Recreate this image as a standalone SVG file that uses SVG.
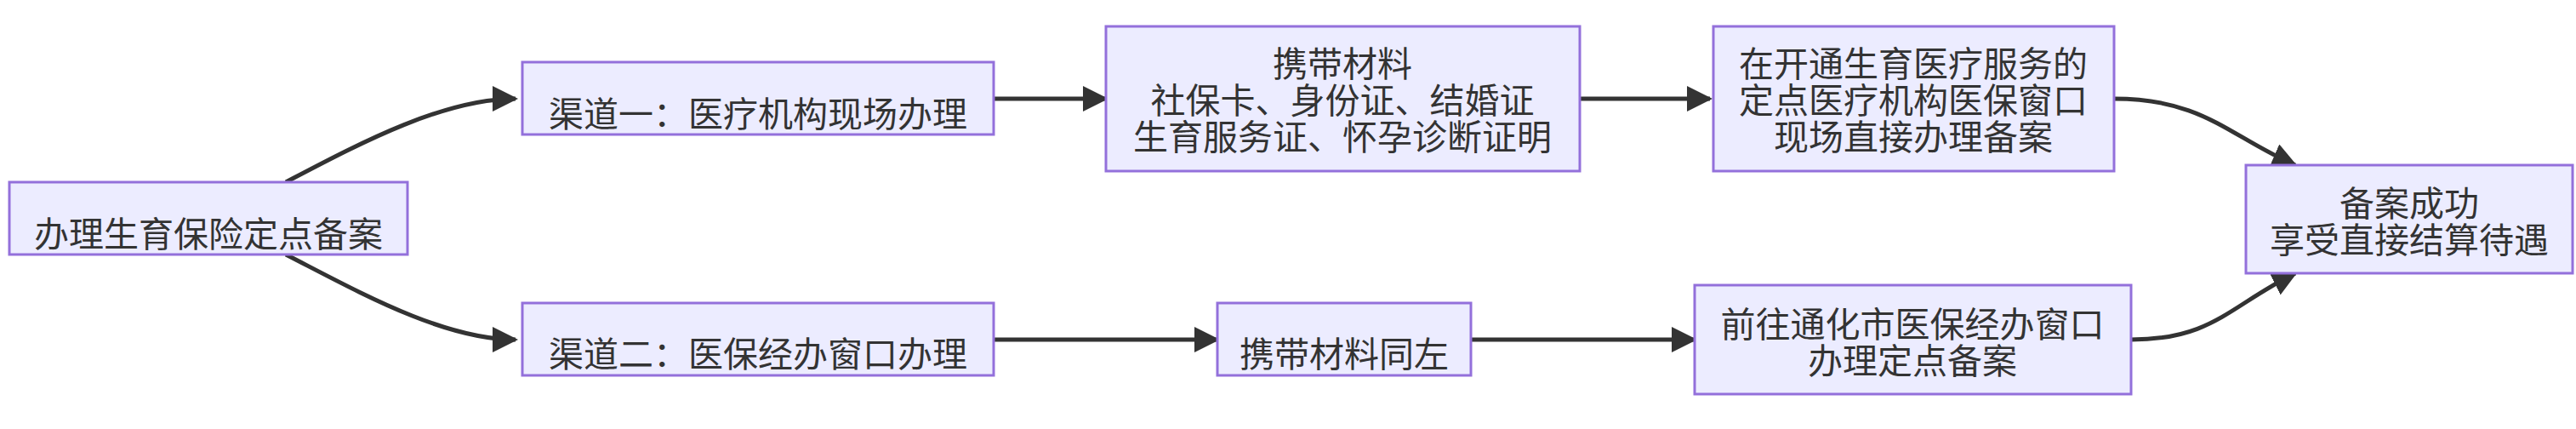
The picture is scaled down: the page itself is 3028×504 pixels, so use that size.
<svg xmlns="http://www.w3.org/2000/svg" width="3028" height="504" viewBox="0 0 3028 504">
<style>
.n rect{fill:#ECECFF;stroke:#9370DB;stroke-width:3}
.n text{font-family:"Noto Sans CJK SC","Noto Sans",sans-serif;font-size:41px;fill:#333;text-anchor:middle;dominant-baseline:central}
.e path{fill:none;stroke:#333;stroke-width:5}
</style>
<defs><marker id="a" viewBox="0 0 10 10" refX="9" refY="5" markerWidth="6" markerHeight="6" orient="auto" markerUnits="strokeWidth"><path d="M0,0L10,5L0,10z" fill="#333"/></marker></defs>
<rect width="3028" height="504" fill="#fff"/>
<g class="e">
<path d="M336,214 C420,170 520,116 606,116" marker-end="url(#a)"/>
<path d="M336,299 C420,342 520,399 606,399" marker-end="url(#a)"/>
<path d="M1168,116 L1300,116" marker-end="url(#a)"/>
<path d="M1857,116 L2010,116" marker-end="url(#a)"/>
<path d="M2485,116 C2590,116 2620,160 2698,194" marker-end="url(#a)"/>
<path d="M1168,399 L1431,399" marker-end="url(#a)"/>
<path d="M1729,399 L1992,399" marker-end="url(#a)"/>
<path d="M2505,399 C2600,399 2620,360 2698,321" marker-end="url(#a)"/>
</g>
<g id="A" class="n"><rect x="11" y="214" width="468" height="85"/><text x="245" y="272">办理生育保险定点备案</text></g>
<g id="B1" class="n"><rect x="614" y="73" width="554" height="85"/><text x="891" y="131">渠道一：医疗机构现场办理</text></g>
<g id="B2" class="n"><rect x="614" y="356" width="554" height="85"/><text x="891" y="413">渠道二：医保经办窗口办理</text></g>
<g id="C1" class="n"><rect x="1300" y="31" width="557" height="170"/><text x="1578" y="72">携带材料</text><text x="1578" y="115">社保卡、身份证、结婚证</text><text x="1578" y="158">生育服务证、怀孕诊断证明</text></g>
<g id="D1" class="n"><rect x="2014" y="31" width="471" height="170"/><text x="2249" y="72">在开通生育医疗服务的</text><text x="2249" y="115">定点医疗机构医保窗口</text><text x="2249" y="158">现场直接办理备案</text></g>
<g id="C2" class="n"><rect x="1431" y="356" width="298" height="85"/><text x="1580" y="413">携带材料同左</text></g>
<g id="D2" class="n"><rect x="1992" y="335" width="513" height="128"/><text x="2248" y="378">前往通化市医保经办窗口</text><text x="2248" y="421">办理定点备案</text></g>
<g id="E" class="n"><rect x="2640" y="194" width="384" height="127"/><text x="2832" y="236">备案成功</text><text x="2832" y="279">享受直接结算待遇</text></g>
</svg>
